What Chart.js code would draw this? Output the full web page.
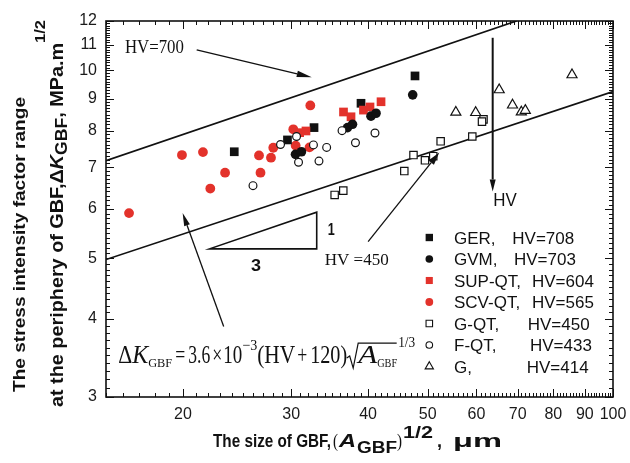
<!DOCTYPE html>
<html>
<head>
<meta charset="utf-8">
<script src="https://cdn.jsdelivr.net/npm/chart.js@4.4.1/dist/chart.umd.min.js"></script>
<style>
  html, body { margin: 0; padding: 0; background: #fff; }
  #wrap { width: 630px; height: 463px; }
</style>
</head>
<body>
<div id="wrap"><canvas id="gbfChart" width="630" height="463"></canvas></div>
<script>
const SANS = '"Liberation Sans", Arial, Helvetica, sans-serif';
const SERIF = '"Liberation Serif", "Times New Roman", serif';
const RED = '#e3322b';

// GBF size (A_GBF)^1/2 in um  vs  dK_GBF in MPa.m^1/2
const gerX = [24.24, 29.58, 32.67, 38.95, 47.67];
const gerY = [7.41, 7.74, 8.10, 8.86, 9.80];
const gvmX = [30.48, 31.17, 37.03, 37.73, 40.43, 41.20, 47.26];
const gvmY = [7.34, 7.41, 8.10, 8.20, 8.45, 8.54, 9.14];
const supX = [30.96, 31.70, 36.48, 37.52, 39.31, 40.28, 41.98];
const supY = [7.95, 8.00, 8.58, 8.43, 8.64, 8.74, 8.91];
const scvX = [16.35, 19.93, 21.56, 23.42, 22.16, 26.59, 26.74, 27.81, 28.05, 30.23, 30.50, 32.22, 32.12];
const scvY = [5.91, 7.32, 7.40, 6.86, 6.47, 7.31, 6.86, 7.25, 7.52, 8.05, 7.58, 8.79, 7.53];
const gqtX = [35.29, 36.45, 45.80, 47.40, 49.48, 51.04, 52.47, 59.07, 61.60, 61.25];
const gqtY = [6.32, 6.42, 6.90, 7.32, 7.18, 7.29, 7.70, 7.84, 8.35, 8.28];
const fqtX = [26.00, 28.82, 30.60, 30.83, 32.60, 33.28, 34.25, 36.28, 38.15, 41.04];
const fqtY = [6.54, 7.61, 7.84, 7.13, 7.60, 7.16, 7.53, 8.01, 7.66, 7.94];
const gX = [55.54, 59.82, 65.32, 68.66, 70.96, 72.03, 85.78];
const gY = [8.57, 8.56, 9.31, 8.80, 8.58, 8.63, 9.84];

// bounding lines for HV=700 (upper) and HV=450 (lower)
const upperLineX = [15, 69.7];
const upperLineY = [7.17, 12];
const lowerLineX = [15, 100];
const lowerLineY = [4.98, 9.25];

const seriesNames = ['GER', 'GVM', 'SUP-QT', 'SCV-QT', 'G-QT', 'F-QT', 'G'];
const seriesHV = [708, 703, 604, 565, 450, 433, 414];

const xTickLabels = [20, 30, 40, 50, 60, 70, 80, 90, 100];
const yTickLabels = [3, 4, 5, 6, 7, 8, 9, 10, 11, 12];

const xTickValues = [];
for (let v = 15; v <= 100; v++) xTickValues.push(v);
const yTickValues = [];
for (let i = 30; i <= 120; i++) yTickValues.push(i / 10);

// annotation anchors, in data units
const hv700Arrow = [[21.06, 10.79], [32.39, 9.75]];
const hvArrow = [[63.75, 11.28], [63.75, 6.40]];
const hv450Arrow = [[40.0, 5.32], [52.2, 7.39]];
const formulaArrow = [[23.3, 3.89], [19.98, 5.91]];
const slopeTriangle = [[22.1, 5.18], [33.0, 5.18], [33.0, 5.93]];

const pts = (xs, ys) => xs.map((x, i) => ({ x, y: ys[i] }));

function markerSet(label, xs, ys, style, filled, color, radius) {
  return {
    label,
    data: pts(xs, ys),
    pointStyle: style,
    pointRadius: radius,
    pointHoverRadius: radius,
    pointBackgroundColor: filled ? color : '#fff',
    pointBorderColor: filled ? color : '#111',
    pointBorderWidth: filled ? 0 : 1.2,
    showLine: false
  };
}

function lineSet(label, xs, ys) {
  return {
    label,
    data: pts(xs, ys),
    showLine: true,
    borderColor: '#111',
    borderWidth: 1.7,
    pointRadius: 0,
    fill: false
  };
}

const styles = {
  'GER':    { style: 'rect', filled: true, color: '#111', r: 6.15, lr: 5.2 },
  'GVM':    { style: 'circle', filled: true, color: '#111', r: 4.8, lr: 3.8 },
  'SUP-QT': { style: 'rect', filled: true, color: RED, r: 6.15, lr: 5.0 },
  'SCV-QT': { style: 'circle', filled: true, color: RED, r: 4.9, lr: 3.9 },
  'G-QT':   { style: 'rect', filled: false, color: '#111', r: 5.2, lr: 4.6 },
  'F-QT':   { style: 'circle', filled: false, color: '#111', r: 3.9, lr: 3.3 },
  'G':      { style: 'triangle', filled: false, color: '#111', r: 5.8, lr: 4.8 }
};

function ds(name, xs, ys) {
  const s = styles[name];
  return markerSet(name, xs, ys, s.style, s.filled, s.color, s.r);
}

// first dataset ends up on top
const datasets = [
  ds('F-QT', fqtX, fqtY),
  ds('G-QT', gqtX, gqtY),
  ds('G', gX, gY),
  ds('GVM', gvmX, gvmY),
  ds('SUP-QT', supX, supY),
  ds('GER', gerX, gerY),
  ds('SCV-QT', scvX, scvY),
  lineSet('HV=700', upperLineX, upperLineY),
  lineSet('HV=450', lowerLineX, lowerLineY)
];

function drawMarker(ctx, style, x, y, r, filled, color) {
  ctx.save();
  ctx.beginPath();
  if (style === 'rect') {
    const h = r * Math.SQRT1_2;
    ctx.rect(x - h, y - h, 2 * h, 2 * h);
  } else if (style === 'circle') {
    ctx.arc(x, y, r, 0, Math.PI * 2);
  } else {
    ctx.moveTo(x, y - r);
    ctx.lineTo(x + r * Math.sin(Math.PI * 2 / 3), y + r / 2);
    ctx.lineTo(x - r * Math.sin(Math.PI * 2 / 3), y + r / 2);
    ctx.closePath();
  }
  if (filled) {
    ctx.fillStyle = color;
    ctx.fill();
  } else {
    ctx.fillStyle = '#fff';
    ctx.fill();
    ctx.lineWidth = 1.1;
    ctx.strokeStyle = '#111';
    ctx.stroke();
  }
  ctx.restore();
}

function arrow(ctx, x1, y1, x2, y2, len, half) {
  const ang = Math.atan2(y2 - y1, x2 - x1);
  const bx = x2 - Math.cos(ang) * len;
  const by = y2 - Math.sin(ang) * len;
  ctx.beginPath();
  ctx.moveTo(x1, y1);
  ctx.lineTo(bx, by);
  ctx.stroke();
  ctx.beginPath();
  ctx.moveTo(x2, y2);
  ctx.lineTo(bx + Math.sin(ang) * half, by - Math.cos(ang) * half);
  ctx.lineTo(bx - Math.sin(ang) * half, by + Math.cos(ang) * half);
  ctx.closePath();
  ctx.fill();
}

// text squeezed or stretched to a given width
function fitText(ctx, text, x, y, font, w) {
  ctx.font = font;
  const nat = ctx.measureText(text).width;
  const sx = w ? w / nat : 1;
  ctx.save();
  ctx.translate(x, y);
  ctx.scale(sx, 1);
  ctx.fillText(text, 0, 0);
  ctx.restore();
}

function drawParts(ctx, parts) {
  parts.forEach(p => fitText(ctx, p.t, p.at, p.dy || 0, p.font, p.w));
}

// lay parts out one after another, scaled to a total length
function flowParts(ctx, parts, total) {
  const widths = parts.map(p => { ctx.font = p.font; return ctx.measureText(p.t).width; });
  const k = total / widths.reduce((a, b) => a + b, 0);
  let at = 0;
  return parts.map((p, i) => {
    const q = Object.assign({}, p, { at, w: widths[i] * k });
    at += widths[i] * k;
    return q;
  });
}

const decorations = {
  id: 'decorations',
  afterDraw(chart) {
    const { ctx, chartArea: a, scales: { x, y } } = chart;
    const X = v => x.getPixelForValue(v);
    const Y = v => y.getPixelForValue(v);
    ctx.save();
    ctx.fillStyle = '#111';
    ctx.strokeStyle = '#111';
    ctx.textBaseline = 'alphabetic';
    ctx.textAlign = 'left';

    // inward tick marks on all four sides
    ctx.lineWidth = 1;
    ctx.beginPath();
    xTickValues.forEach(v => {
      const p = Math.round(X(v)) + 0.5;
      const len = xTickLabels.includes(v) ? 8 : 4;
      ctx.moveTo(p, a.bottom); ctx.lineTo(p, a.bottom - len);
      ctx.moveTo(p, a.top); ctx.lineTo(p, a.top + len);
    });
    yTickValues.forEach(v => {
      const p = Math.round(Y(v)) + 0.5;
      const len = yTickLabels.includes(v) ? 8 : 4;
      ctx.moveTo(a.left, p); ctx.lineTo(a.left + len, p);
      ctx.moveTo(a.right, p); ctx.lineTo(a.right - len, p);
    });
    ctx.stroke();
    ctx.lineWidth = 1.6;
    ctx.strokeRect(a.left, a.top, a.right - a.left, a.bottom - a.top);

    // arrows and slope triangle
    ctx.lineWidth = 1.4;
    arrow(ctx, X(hv700Arrow[0][0]), Y(hv700Arrow[0][1]), X(hv700Arrow[1][0]), Y(hv700Arrow[1][1]), 15, 3.2);
    ctx.lineWidth = 2;
    arrow(ctx, X(hvArrow[0][0]), Y(hvArrow[0][1]), X(hvArrow[1][0]), Y(hvArrow[1][1]), 12, 3);
    ctx.lineWidth = 1.3;
    arrow(ctx, X(hv450Arrow[0][0]), Y(hv450Arrow[0][1]), X(hv450Arrow[1][0]), Y(hv450Arrow[1][1]), 13, 3.5);
    arrow(ctx, X(formulaArrow[0][0]), Y(formulaArrow[0][1]), X(formulaArrow[1][0]), Y(formulaArrow[1][1]), 13, 3);
    ctx.lineWidth = 1.6;
    ctx.beginPath();
    slopeTriangle.forEach(([u, v], i) => i ? ctx.lineTo(X(u), Y(v)) : ctx.moveTo(X(u), Y(v)));
    ctx.closePath();
    ctx.stroke();

    // labels inside the plot
    fitText(ctx, 'HV=700', X(16.1), Y(10.65), '18px ' + SERIF, 59);
    fitText(ctx, 'HV =450', X(34.0), Y(4.88), '17px ' + SERIF, 64);
    fitText(ctx, 'HV', X(63.9), Y(6.07), '17.5px ' + SANS, 23.5);
    fitText(ctx, '1', X(34.4), Y(5.45), 'bold 16px ' + SANS, 7);
    fitText(ctx, '3', X(26.3) - 5, Y(4.78), 'bold 16px ' + SANS, 10);

    // dK_GBF = 3.6x10^-3 (HV+120) sqrt(A_GBF)^(1/3)
    const fx = X(15.7), fy = Y(3.40);
    ctx.save();
    ctx.translate(fx, fy);
    drawParts(ctx, [
      { t: '\u0394', at: 0, w: 14, font: '26px ' + SERIF },
      { t: 'K', at: 14, w: 16, font: 'italic 26px ' + SERIF },
      { t: 'GBF', at: 30, w: 24, font: '12px ' + SERIF, dy: 3.5 },
      { t: '=', at: 57, w: 10, font: '26px ' + SERIF },
      { t: '3.6', at: 70, w: 22, font: '26px ' + SERIF },
      { t: '\u00d7', at: 94, w: 10, font: '26px ' + SERIF },
      { t: '10', at: 105, w: 19, font: '26px ' + SERIF },
      { t: '\u22123', at: 124, w: 15, font: '15px ' + SERIF, dy: -13 },
      { t: '(HV', at: 139, w: 38, font: '26px ' + SERIF },
      { t: '+', at: 179, w: 10, font: '26px ' + SERIF },
      { t: '120)', at: 192, w: 37, font: '26px ' + SERIF },
      { t: 'A', at: 240, w: 19, font: 'italic 26px ' + SERIF },
      { t: 'GBF', at: 259, w: 20, font: '12px ' + SERIF, dy: 3.5 },
      { t: '1/3', at: 280, w: 17, font: '14px ' + SERIF, dy: -16 }
    ]);
    ctx.lineWidth = 1.2;
    ctx.beginPath();
    ctx.moveTo(228.5, -5);
    ctx.lineTo(231.5, -7);
    ctx.lineTo(235, 5);
    ctx.lineTo(240, -20);
    ctx.lineTo(278.5, -20);
    ctx.stroke();
    ctx.restore();

    // legend
    const order = ['GER', 'GVM', 'SUP-QT', 'SCV-QT', 'G-QT', 'F-QT', 'G'];
    const hvOffset = [-100.7, -99, -81, -81, -85.3, -83, -86.3];
    order.forEach((name, i) => {
      const s = styles[name];
      const base = a.top + 222.5 + i * 21.5;
      drawMarker(ctx, s.style, a.right - 183.7, base - 6, s.lr, s.filled, s.color);
      ctx.fillStyle = '#111';
      ctx.font = '17px ' + SANS;
      ctx.fillText(name + ',', a.right - 159, base);
      ctx.fillText('HV=' + seriesHV[seriesNames.indexOf(name)], a.right + hvOffset[i], base);
    });

    // x axis title
    ctx.save();
    ctx.translate(0, 446.7);
    drawParts(ctx, [
      { t: 'The size of GBF,', at: 213, w: 118, font: 'bold 18px ' + SANS },
      { t: '(', at: 333, w: 5, font: '19px ' + SERIF },
      { t: 'A', at: 339, w: 17, font: 'italic bold 18px ' + SANS },
      { t: 'GBF', at: 357, w: 40, font: 'bold 16px ' + SANS, dy: 6.5 },
      { t: ')', at: 397, w: 5, font: '19px ' + SERIF },
      { t: '1/2', at: 403, w: 30, font: 'bold 17px ' + SANS, dy: -9 },
      { t: ',', at: 437, w: 5, font: 'bold 18px ' + SANS },
      { t: '\u03bcm', at: 453, w: 49, font: 'bold 18px ' + SANS }
    ]);
    ctx.restore();

    // y axis title, two rotated lines
    ctx.save();
    ctx.translate(25, 392);
    ctx.rotate(-Math.PI / 2);
    drawParts(ctx, flowParts(ctx, [{ t: 'The stress intensity factor range', font: 'bold 17px ' + SANS }], 295));
    ctx.restore();

    ctx.save();
    ctx.translate(63, 407);
    ctx.rotate(-Math.PI / 2);
    drawParts(ctx, flowParts(ctx, [
      { t: 'at the periphery of GBF,', font: 'bold 18px ' + SANS },
      { t: '\u0394', font: 'bold 18px ' + SANS },
      { t: 'K', font: 'italic bold 18px ' + SANS },
      { t: 'GBF', font: 'bold 16px ' + SANS, dy: 4 },
      { t: ', MPa.m', font: 'bold 18px ' + SANS },
      { t: '1/2', font: 'bold 15px ' + SANS, dy: -18 }
    ], 387));
    ctx.restore();

    ctx.restore();
  }
};

new Chart(document.getElementById('gbfChart').getContext('2d'), {
  type: 'scatter',
  data: { datasets },
  options: {
    responsive: false,
    animation: false,
    devicePixelRatio: 1,
    events: [],
    layout: { padding: { top: 21, right: 17, left: 0, bottom: 0 } },
    plugins: { legend: { display: false }, tooltip: { enabled: false } },
    scales: {
      x: {
        type: 'logarithmic',
        min: 15,
        max: 100,
        afterBuildTicks: s => { s.ticks = xTickValues.map(v => ({ value: v })); },
        // fixed band under the plot; the "100" label may hang over the edge
        afterFit: s => { s.height = 66; s.paddingLeft = 0; s.paddingRight = 0; },
        grid: { display: false, drawTicks: false },
        border: { display: false },
        ticks: {
          autoSkip: false, maxRotation: 0, minRotation: 0, padding: 8,
          color: '#1a1a1a', font: { family: SANS, size: 16 },
          callback: v => xTickLabels.includes(v) ? String(v) : ''
        }
      },
      y: {
        type: 'logarithmic',
        min: 3,
        max: 12,
        afterBuildTicks: s => { s.ticks = yTickValues.map(v => ({ value: v })); },
        afterFit: s => { s.width = 106; s.paddingTop = 0; s.paddingBottom = 0; },
        grid: { display: false, drawTicks: false },
        border: { display: false },
        ticks: {
          autoSkip: false, padding: 9,
          color: '#1a1a1a', font: { family: SANS, size: 16 },
          callback: v => yTickLabels.includes(v) ? String(v) : ''
        }
      }
    }
  },
  plugins: [decorations]
});
</script>
</body>
</html>
